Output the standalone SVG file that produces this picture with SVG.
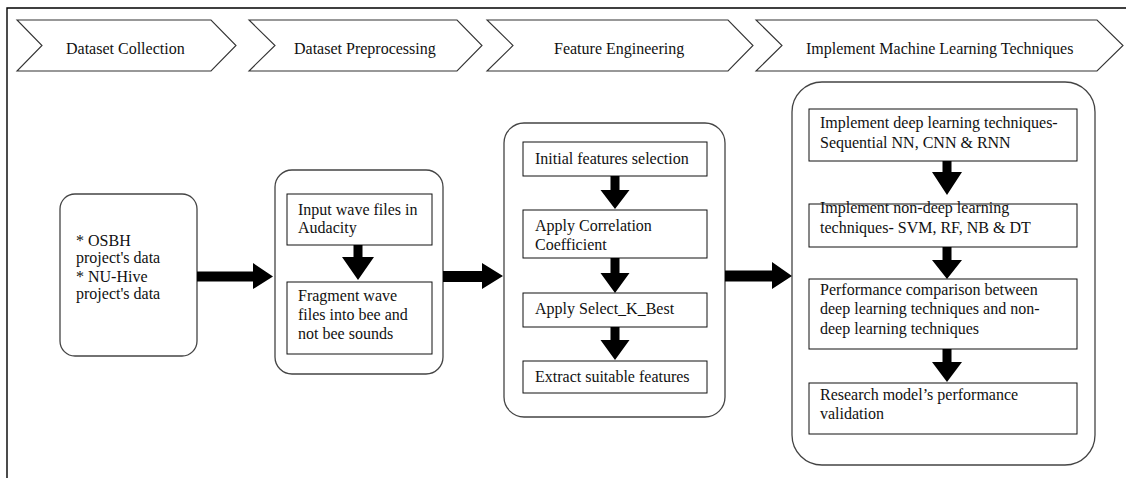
<svg xmlns="http://www.w3.org/2000/svg" width="1126" height="478" viewBox="0 0 1126 478">
<style>
text{font-family:"Liberation Serif","Times New Roman",serif;font-size:16px;fill:#111}
.chev{fill:#fff;stroke:#333;stroke-width:1.1}
.grp{fill:#fff;stroke:#444;stroke-width:1.3}
.box{fill:#fff;stroke:#111;stroke-width:1}
.arr{fill:#000;stroke:none}
.frame{stroke:#000;stroke-width:1.4;fill:none}
</style>
<rect width="1126" height="478" fill="#fff"/>
<path class="frame" d="M7,478 V8 H1126"/>
<g id="stage1">
<polygon class="chev" points="17,20 211,20 236,45.5 211,71 17,71 42,45.5"/>
<text x="66" y="54">Dataset Collection</text>
</g>
<g id="stage2">
<polygon class="chev" points="249,20 457,20 482,45.5 457,71 249,71 275,45.5"/>
<text x="294" y="54">Dataset Preprocessing</text>
</g>
<g id="stage3">
<polygon class="chev" points="487,20 728,20 753,45.5 728,71 487,71 513,45.5"/>
<text x="554" y="54">Feature Engineering</text>
</g>
<g id="stage4">
<polygon class="chev" points="756,20 1097,20 1123,45.5 1097,71 756,71 782,45.5"/>
<text x="806" y="54">Implement Machine Learning Techniques</text>
</g>
<g id="node-collection">
<rect class="grp" x="60" y="194" width="137" height="162" rx="15"/>
<text x="76" y="246">* OSBH</text>
<text x="76" y="263">project's data</text>
<text x="76" y="282">* NU-Hive</text>
<text x="76" y="299">project's data</text>
</g>
<g id="node-preprocessing">
<rect class="grp" x="275" y="170" width="168" height="204" rx="17"/>
<rect class="box" x="287" y="194" width="145" height="51"/>
<text x="298" y="215">Input wave files in</text>
<text x="298" y="233">Audacity</text>
<rect class="box" x="287" y="282" width="145" height="72"/>
<text x="298" y="301">Fragment wave</text>
<text x="298" y="320">files into bee and</text>
<text x="298" y="339">not bee sounds</text>
</g>
<g id="node-features">
<rect class="grp" x="504" y="123" width="221" height="294" rx="20"/>
<rect class="box" x="523" y="142" width="184" height="34"/>
<text x="535" y="164">Initial features selection</text>
<rect class="box" x="523" y="210" width="184" height="48"/>
<text x="535" y="231">Apply Correlation</text>
<text x="535" y="250">Coefficient</text>
<rect class="box" x="523" y="293" width="184" height="34"/>
<text x="535" y="314">Apply Select_K_Best</text>
<rect class="box" x="523" y="361" width="184" height="32"/>
<text x="535" y="382">Extract suitable features</text>
</g>
<g id="node-ml">
<rect class="grp" x="792" y="82" width="303" height="383" rx="30"/>
<rect class="box" x="809" y="109" width="268" height="52"/>
<text x="820" y="128">Implement deep learning techniques-</text>
<text x="820" y="148">Sequential NN, CNN &amp; RNN</text>
<rect class="box" x="809" y="204" width="268" height="43"/>
<text x="820" y="213">Implement non-deep learning</text>
<text x="820" y="233">techniques- SVM, RF, NB &amp; DT</text>
<rect class="box" x="809" y="279" width="268" height="70"/>
<text x="820" y="295">Performance comparison between</text>
<text x="820" y="314">deep learning techniques and non-</text>
<text x="820" y="334">deep learning techniques</text>
<rect class="box" x="809" y="383" width="268" height="51"/>
<text x="820" y="400">Research model’s performance</text>
<text x="820" y="419">validation</text>
</g>
<g id="connectors">
<polygon class="arr" points="197,271.5 253,271.5 253,263 273,276.5 253,289 253,281.5 197,281.5"/>
<polygon class="arr" points="443,271 482,271 482,263 503,276 482,289 482,282 443,282"/>
<polygon class="arr" points="725,270.5 772,270.5 772,262 792,276 772,289 772,281.5 725,281.5"/>
<polygon class="arr" points="353.5,245 362.5,245 362.5,257 374,257 358,280 342,257 353.5,257"/>
<polygon class="arr" points="610.5,176 619.5,176 619.5,190 629.5,190 615,209 600.5,190 610.5,190"/>
<polygon class="arr" points="610.5,258 619.5,258 619.5,273 629.5,273 615,293 600.5,273 610.5,273"/>
<polygon class="arr" points="610.5,327 619.5,327 619.5,340 629.5,340 615,360 600.5,340 610.5,340"/>
<polygon class="arr" points="942.5,161 951.5,161 951.5,172 962,172 947,195 932,172 942.5,172"/>
<polygon class="arr" points="942.5,247 951.5,247 951.5,260 962,260 947,279 932,260 942.5,260"/>
<polygon class="arr" points="942.5,349 951.5,349 951.5,362 962,362 947,382 932,362 942.5,362"/>
</g>
</svg>
